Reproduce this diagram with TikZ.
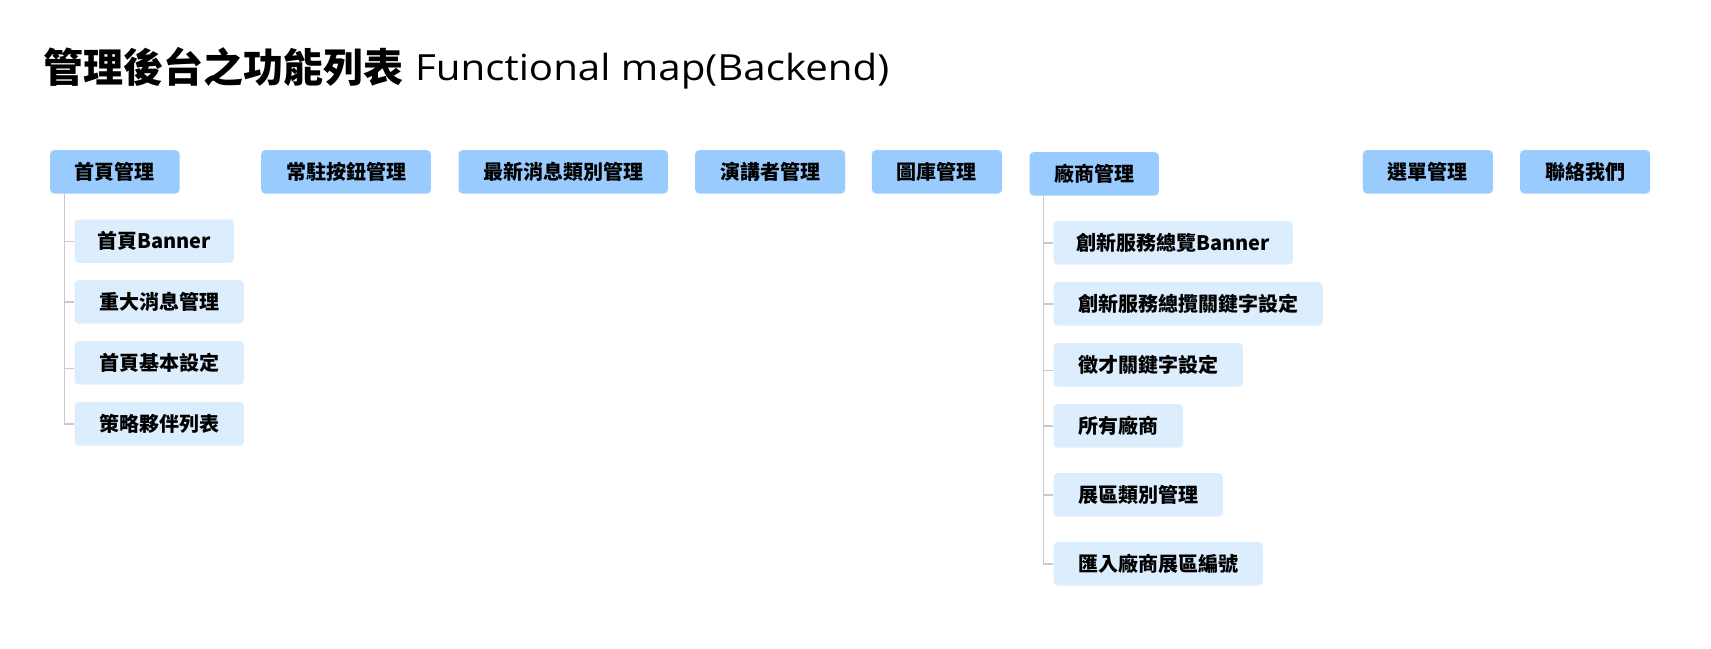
\documentclass[tikz,border=0pt]{standalone}
\usepackage{fontspec}
\usepackage{graphicx}
\newfontfamily\cjk{Noto Sans CJK TC}
\newfontfamily\latin{Open Sans}
\definecolor{topblue}{HTML}{9ACBFE}
\definecolor{subblue}{HTML}{DCEDFD}
\definecolor{linegray}{HTML}{C9C9C9}
\begin{document}
\begin{tikzpicture}[x=1pt,y=-1pt,
  topbox/.style={fill=topblue, rounded corners=4pt, minimum height=43.3pt, inner sep=0pt, anchor=north west,
    font=\cjk\bfseries\fontsize{20pt}{24pt}\selectfont, text height=16pt, text depth=1.5pt},
  subbox/.style={topbox, fill=subblue},
  link/.style={draw=linegray, line width=1.3pt}]
\useasboundingbox[fill=white] (0,0) rectangle (1711,648);

\node[anchor=base west, inner sep=0pt, font=\cjk\bfseries\fontsize{40pt}{48pt}\selectfont] (t1) at (43,82) {管理後台之功能列表};
\node[anchor=base west, inner sep=0pt, font=\latin\fontsize{36pt}{44pt}\selectfont] (t2) at (415,80) {\resizebox{474pt}{\height}{Functional map(Backend)}};

\node[topbox, minimum width=129.3pt] (home) at (50,150) {首頁管理};
\node[topbox, minimum width=169.7pt] (btn) at (261,150) {常駐按鈕管理};
\node[topbox, minimum width=209.4pt] (newscat) at (458.3,150) {最新消息類別管理};
\node[topbox, minimum width=150pt] (speaker) at (695,150) {演講者管理};
\node[topbox, minimum width=130.1pt] (gallery) at (871.7,150) {圖庫管理};
\node[topbox, minimum width=129.4pt] (vendor) at (1029.3,152) {廠商管理};
\node[topbox, minimum width=130pt] (menu) at (1362.7,150) {選單管理};
\node[topbox, minimum width=130pt] (contact) at (1520,150) {聯絡我們};

\node[subbox, minimum width=159.4pt] (h1) at (74.3,219.3) {首頁Banner};
\node[subbox, minimum width=169.4pt] (h2) at (74.3,280) {重大消息管理};
\node[subbox, minimum width=169.4pt] (h3) at (74.3,341) {首頁基本設定};
\node[subbox, minimum width=169.4pt] (h4) at (74.3,402) {策略夥伴列表};

\node[subbox, minimum width=239.4pt] (v1) at (1053.3,221) {創新服務總覽Banner};
\node[subbox, minimum width=269.4pt] (v2) at (1053.3,282) {創新服務總攬關鍵字設定};
\node[subbox, minimum width=189.4pt] (v3) at (1053.3,343) {徵才關鍵字設定};
\node[subbox, minimum width=129.4pt] (v4) at (1053.3,404) {所有廠商};
\node[subbox, minimum width=169.4pt] (v5) at (1053.3,473) {展區類別管理};
\node[subbox, minimum width=209.4pt] (v6) at (1053.3,542) {匯入廠商展區編號};

\foreach \c in {h1,h2,h4} \draw[link] ([xshift=14.3pt]home.south west) |- (\c.west);
\draw[link] ([xshift=14.3pt]home.south west) |- ([yshift=-5.6pt]h3.west);
\foreach \c in {v1,v2,v4,v5,v6} \draw[link] ([xshift=14pt]vendor.south west) |- (\c.west);
\draw[link] ([xshift=14pt]vendor.south west) |- ([yshift=-5.4pt]v3.west);
\end{tikzpicture}
\end{document}
